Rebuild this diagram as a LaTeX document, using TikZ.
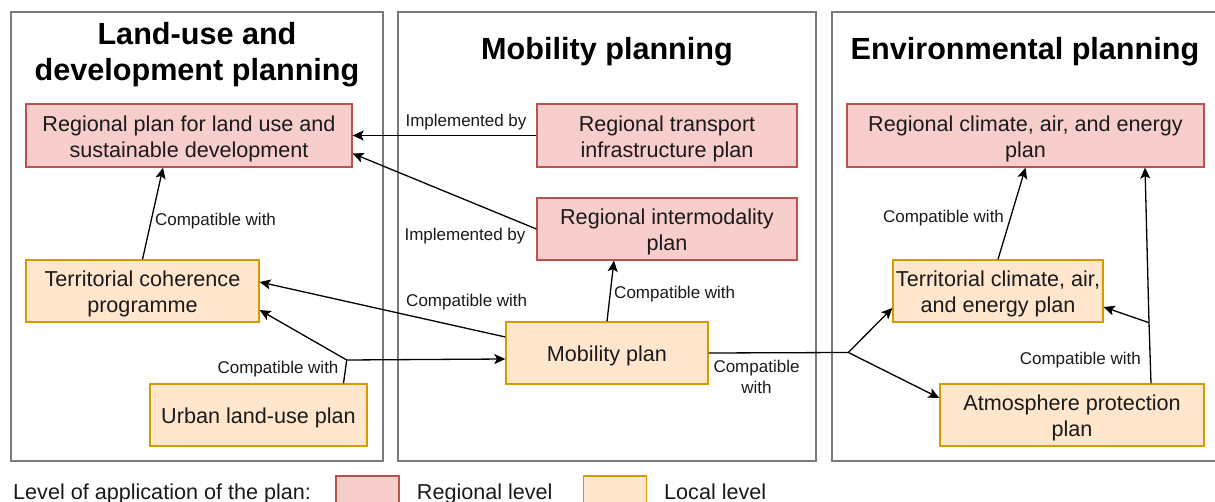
\documentclass[tikz,border=0pt]{standalone}
\usepackage{fontspec}
\setmainfont{Liberation Sans}
\usetikzlibrary{arrows.meta,calc}
\definecolor{pinkf}{HTML}{F8CECC}
\definecolor{pinkd}{HTML}{B85450}
\definecolor{orf}{HTML}{FFE6CC}
\definecolor{ord}{HTML}{D79B00}
\definecolor{panelc}{HTML}{7A7A7A}
\definecolor{labc}{HTML}{1A1A1A}
\newcommand\bxfont{\fontsize{21.6}{26}\selectfont}
\newcommand\lbfont{\fontsize{17}{20.6}\selectfont}
\newcommand\ttlfont{\fontsize{30.6}{36.5}\selectfont\bfseries}
\newcommand\tp{\rule{0pt}{22pt}}
\begin{document}
\begin{tikzpicture}[x=1pt,y=-1pt,
  panel/.style={draw=panelc, line width=1.5pt},
  boxbase/.style={line width=1.3pt, inner sep=0pt, align=center, font=\bxfont, text=labc},
  regbox/.style={boxbase, draw=pinkd, fill=pinkf},
  locbox/.style={boxbase, draw=ord, fill=orf},
  ttl/.style={font=\ttlfont, align=center, inner sep=0pt},
  edgelab/.style={font=\lbfont, text=labc, inner sep=0pt, align=center},
  conn/.style={line width=1.3pt, draw=black},
  arr/.style={conn, -{Stealth[length=11pt,width=10pt,inset=2.5pt]}},
  legtext/.style={font=\bxfont, text=labc, inner sep=0pt, anchor=base west}
]
\useasboundingbox (0,0) rectangle (1215,502);
\clip (0,0) rectangle (1215,502);

% panels
\draw[panel] (11,12) rectangle (383,461);
\draw[panel] (398,12) rectangle (816,461);
\draw[panel] (832,12) rectangle (1240,461);

% titles
\node[ttl] (t1) at (197,54.5) {Land-use and\\development planning};
\node[ttl] (t2) at (607,52) {Mobility planning};
\node[ttl] (t3) at (1025,52) {Environmental planning};

% boxes
\node[regbox, minimum width=326pt, minimum height=63pt] (b1) at (189,135.5) {\tp Regional plan for land use and\\sustainable development};
\node[regbox, minimum width=260pt, minimum height=63pt] (b2) at (667,135.5) {\tp Regional transport\\infrastructure plan};
\node[regbox, minimum width=260pt, minimum height=62pt] (b3) at (667,229) {\tp Regional intermodality\\plan};
\node[locbox, minimum width=233pt, minimum height=62pt] (b4) at (142.5,291) {\tp Territorial coherence\\programme};
\node[locbox, minimum width=217pt, minimum height=62pt] (b5) at (258.5,415) {\tp Urban land-use plan};
\node[locbox, minimum width=202pt, minimum height=62pt] (b6) at (607,353) {\tp Mobility plan};
\node[regbox, minimum width=357pt, minimum height=63pt] (b7) at (1025.5,135.5) {\tp Regional climate, air, and energy\\plan};
\node[locbox, minimum width=210pt, minimum height=62pt] (b8) at (998,291) {\tp Territorial climate, air,\\and energy plan};
\node[locbox, minimum width=264pt, minimum height=62pt] (b9) at (1072,415) {\tp Atmosphere protection\\plan};

% junctions
\coordinate (j1) at (346.7,360);
\coordinate (j2) at (848.3,352.5);
\coordinate (j3) at (1149,322.7);

% connectors
\draw[arr] (b2.west) -- (b1.east);
\draw[arr] (b3.west) -- ([yshift=-18pt]b1.east);
\draw[arr] (b4.north) -- ([xshift=-26pt]b1.south);
\draw[arr] ([yshift=16pt]b6.west) -- ([yshift=9pt]b4.east);
\draw[conn] ([xshift=85pt]b5.north) -- (j1);
\draw[arr] (j1) -- ([yshift=-19pt]b4.east);
\draw[arr] (j1) -- ([yshift=-6pt]b6.west);
\draw[arr] (b6.north) -- ([xshift=-53pt]b3.south);
\draw[conn] (b6.east) -- (j2);
\draw[arr] (j2) -- ([yshift=-17pt]b8.west);
\draw[arr] (j2) -- ([yshift=17pt]b9.west);
\draw[arr] (b8.north) -- (b7.south);
\draw[arr] ([xshift=79pt]b9.north) -- (j3) -- ([xshift=119.5pt]b7.south);
\draw[arr] (j3) -- ([yshift=-16pt]b8.east);

% labels
\node[edgelab] (l1) at (466,122) {Implemented by};
\node[edgelab] (l2) at (465,236) {Implemented by};
\node[edgelab] (l3) at (215.5,221) {Compatible with};
\node[edgelab] (l4) at (466.7,301.7) {Compatible with};
\node[edgelab] (l5) at (278,369) {Compatible with};
\node[edgelab] (l6) at (674.7,294) {Compatible with};
\node[edgelab] (l7) at (756.5,377) {Compatible\\with};
\node[edgelab] (l8) at (943.5,218) {Compatible with};
\node[edgelab] (l9) at (1080.3,360) {Compatible with};

% legend
\node[legtext] (lg0) at (13,499) {Level of application of the plan:};
\draw[draw=pinkd, fill=pinkf, line width=1.3pt] (336,476) rectangle (399,520);
\node[legtext] (lg1) at (416.7,499) {Regional level};
\draw[draw=ord, fill=orf, line width=1.3pt] (583.5,476) rectangle (646.5,520);
\node[legtext] (lg2) at (664,499) {Local level};
\end{tikzpicture}
\end{document}
